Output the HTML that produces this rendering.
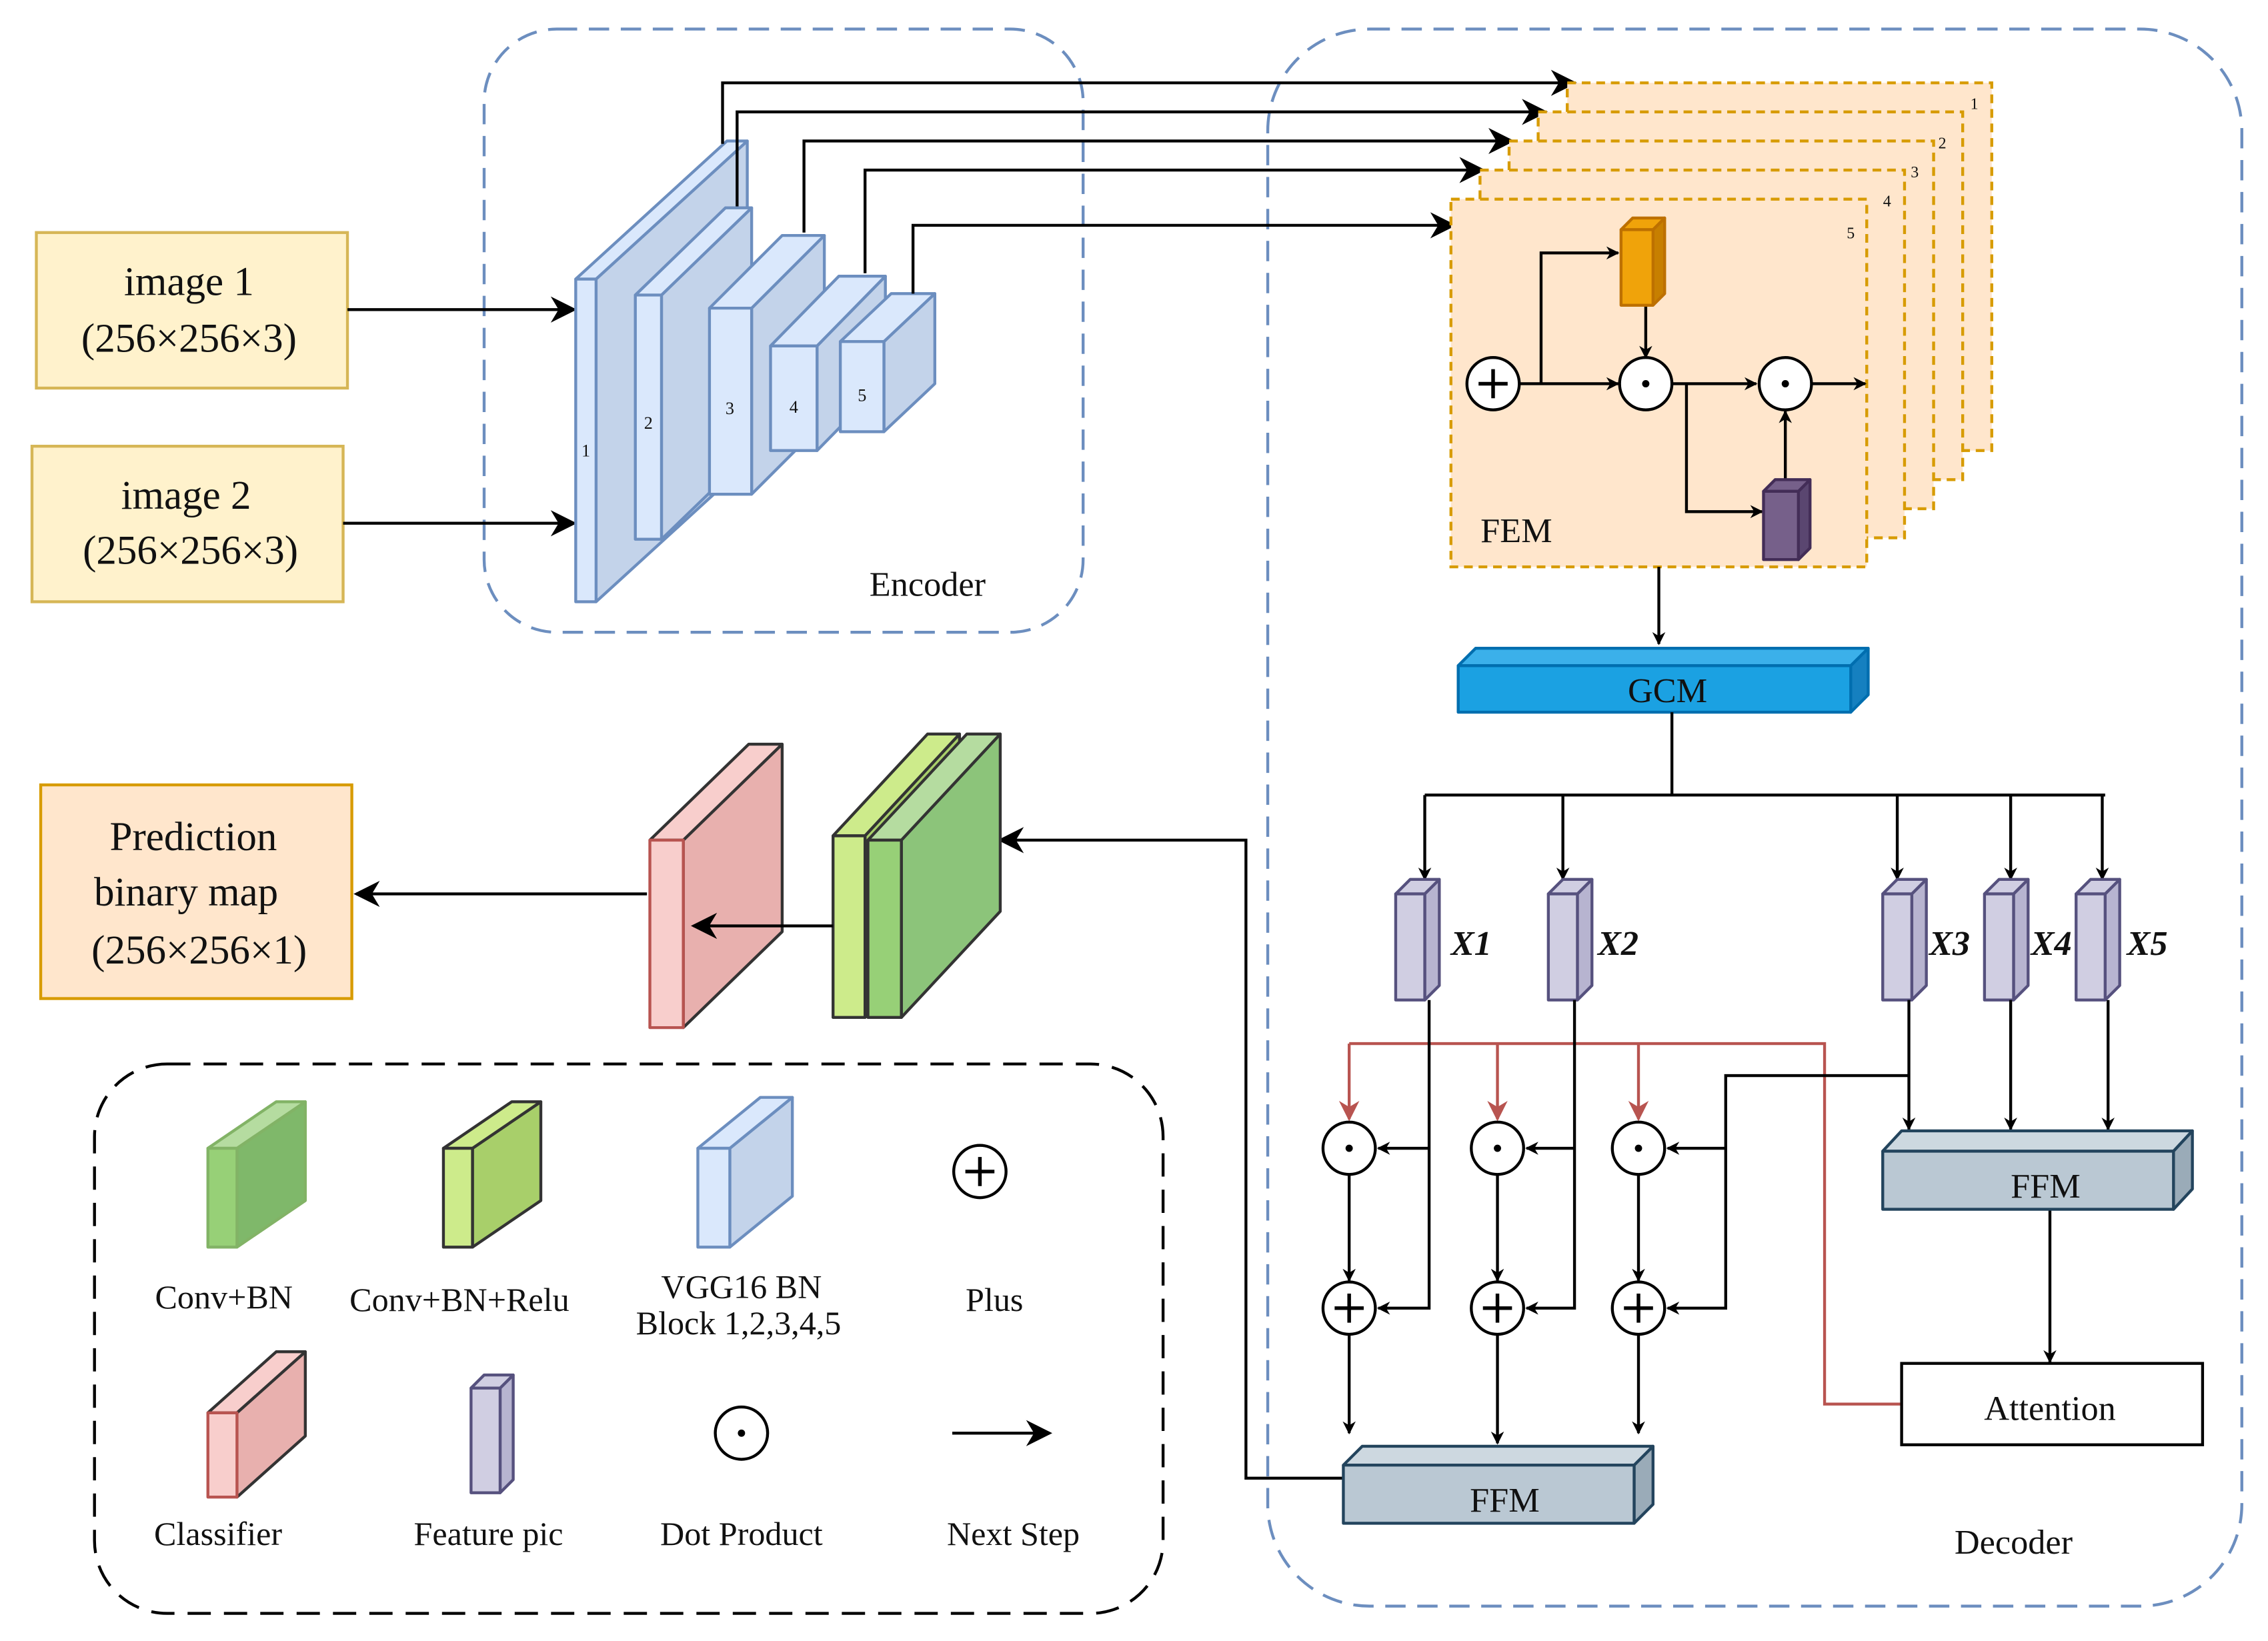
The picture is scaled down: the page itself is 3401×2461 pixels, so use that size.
<!DOCTYPE html>
<html><head><meta charset="utf-8"><style>
html,body{margin:0;padding:0;background:#fff;}
svg{display:block;}
text{font-family:"Liberation Serif",serif;fill:#111;}
</style></head><body>
<svg width="3401" height="2461" viewBox="0 0 1560 1129" preserveAspectRatio="none" xmlns="http://www.w3.org/2000/svg">
<defs>
<marker id="a" viewBox="0 0 10 10" refX="9" refY="5" markerWidth="9" markerHeight="9" orient="auto-start-reverse" markerUnits="userSpaceOnUse"><path d="M0,0 L10,5 L0,10 L3,5 z" fill="#000"/></marker>
<marker id="ab" viewBox="0 0 10 10" refX="9" refY="5" markerWidth="22" markerHeight="18" orient="auto" markerUnits="userSpaceOnUse"><path d="M0,0 L10,5 L0,10 L3,5 z" fill="#000"/></marker>
<marker id="ar" viewBox="0 0 10 10" refX="9" refY="5" markerWidth="14" markerHeight="14" orient="auto" markerUnits="userSpaceOnUse"><path d="M0,0 L10,5 L0,10 L3,5 z" fill="#b85450"/></marker>
</defs>
<rect width="1560" height="1129" fill="#fff"/>
<!-- dashed containers -->
<rect x="333" y="20" width="412" height="415" rx="50" fill="none" stroke="#6c8ebf" stroke-width="2" stroke-dasharray="14,8"/>
<rect x="872" y="20" width="670" height="1085" rx="70" fill="none" stroke="#6c8ebf" stroke-width="2" stroke-dasharray="14,8"/>
<rect x="65" y="732" width="735" height="378" rx="50" fill="none" stroke="#000" stroke-width="2" stroke-dasharray="16,9"/>
<text x="638" y="410" font-size="24" text-anchor="middle">Encoder</text>
<text x="1385" y="1069" font-size="24" text-anchor="middle">Decoder</text>

<!-- inputs -->
<rect x="25" y="160" width="214" height="107" fill="#fff2cc" stroke="#d6b656" stroke-width="2"/>
<text x="130" y="203" font-size="28" text-anchor="middle">image 1</text>
<text x="130" y="242" font-size="28" text-anchor="middle">(256×256×3)</text>
<rect x="22" y="307" width="214" height="107" fill="#fff2cc" stroke="#d6b656" stroke-width="2"/>
<text x="128" y="350" font-size="28" text-anchor="middle">image 2</text>
<text x="131" y="388" font-size="28" text-anchor="middle">(256×256×3)</text>
<line x1="239" y1="213" x2="395" y2="213" stroke="#000" stroke-width="2" marker-end="url(#ab)"/>
<line x1="236" y1="360" x2="395" y2="360" stroke="#000" stroke-width="2" marker-end="url(#ab)"/>

<!-- encoder blocks -->
<g fill="#dae8fc" stroke="#6c8ebf" stroke-width="2" stroke-linejoin="round">
<polygon points="410,192 514,97 514,319 410,414" fill="#c3d3ea"/><polygon points="396,192 500,97 514,97 410,192"/><rect x="396" y="192" width="14" height="222"/>
<polygon points="455,203 517,143 517,311 455,371" fill="#c3d3ea"/><polygon points="437,203 499,143 517,143 455,203"/><rect x="437" y="203" width="18" height="168"/>
<polygon points="517,212 567,162 567,290 517,340" fill="#c3d3ea"/><polygon points="488,212 538,162 567,162 517,212"/><rect x="488" y="212" width="29" height="128"/>
<polygon points="562,238 609,190 609,262 562,310" fill="#c3d3ea"/><polygon points="530,238 577,190 609,190 562,238"/><rect x="530" y="238" width="32" height="72"/>
<polygon points="608,235 643,202 643,264 608,297" fill="#c3d3ea"/><polygon points="578,235 613,202 643,202 608,235"/><rect x="578" y="235" width="30" height="62"/>
</g>
<g font-size="12" text-anchor="middle"><text x="403" y="314">1</text><text x="446" y="295">2</text><text x="502" y="285">3</text><text x="546" y="284">4</text><text x="593" y="276">5</text></g>

<!-- skip lines -->
<g fill="none" stroke="#000" stroke-width="2">
<polyline points="497,99 497,57 1083,57" marker-end="url(#ab)"/>
<polyline points="507,142 507,77 1063,77" marker-end="url(#ab)"/>
<polyline points="553,160 553,97 1040,97" marker-end="url(#ab)"/>
<polyline points="595,188 595,117 1020,117" marker-end="url(#ab)"/>
<polyline points="628,202 628,155 1000,155" marker-end="url(#ab)"/>
</g>

<!-- FEM stack -->
<g fill="#ffe6cc" stroke="#d79b00" stroke-width="2" stroke-dasharray="6,4">
<rect x="1078" y="57" width="292" height="253"/>
<rect x="1058" y="77" width="292" height="253"/>
<rect x="1038" y="97" width="292" height="253"/>
<rect x="1018" y="117" width="292" height="253"/>
<rect x="998" y="137" width="286" height="253"/>
</g>
<g font-size="11" text-anchor="middle"><text x="1358" y="75">1</text><text x="1336" y="102">2</text><text x="1317" y="122">3</text><text x="1298" y="142">4</text><text x="1273" y="164">5</text></g>
<text x="1043" y="373" font-size="24" text-anchor="middle">FEM</text>
<g fill="none" stroke="#000" stroke-width="2">
<line x1="1045" y1="264" x2="1113" y2="264" marker-end="url(#a)"/>
<polyline points="1060,264 1060,174 1113,174" marker-end="url(#a)"/>
<line x1="1132" y1="210" x2="1132" y2="246" marker-end="url(#a)"/>
<line x1="1150" y1="264" x2="1208" y2="264" marker-end="url(#a)"/>
<polyline points="1160,264 1160,352 1212,352" marker-end="url(#a)"/>
<line x1="1228" y1="330" x2="1228" y2="283" marker-end="url(#a)"/>
<line x1="1246" y1="264" x2="1283" y2="264" marker-end="url(#a)"/>
</g>
<g stroke-width="2" stroke-linejoin="round">
<polygon points="1137,158 1145,150 1145,202 1137,210" fill="#c77f00" stroke="#bd7000"/><polygon points="1115,158 1123,150 1145,150 1137,158" fill="#f0a30a" stroke="#bd7000"/><rect x="1115" y="158" width="22" height="52" fill="#f0a30a" stroke="#bd7000"/>
<polygon points="1237,338 1245,330 1245,377 1237,385" fill="#5a4670" stroke="#432d57"/><polygon points="1213,338 1221,330 1245,330 1237,338" fill="#76608a" stroke="#432d57"/><rect x="1213" y="338" width="24" height="47" fill="#76608a" stroke="#432d57"/>
</g>
<g fill="#fff" stroke="#000" stroke-width="2">
<circle cx="1027" cy="264" r="18"/><circle cx="1132" cy="264" r="18"/><circle cx="1228" cy="264" r="18"/>
</g>
<g stroke="#000" stroke-width="2.5"><line x1="1017" y1="264" x2="1037" y2="264"/><line x1="1027" y1="254" x2="1027" y2="274"/></g>
<circle cx="1132" cy="264" r="2.5" fill="#000"/><circle cx="1228" cy="264" r="2.5" fill="#000"/>

<!-- GCM -->
<line x1="1141" y1="390" x2="1141" y2="443" stroke="#000" stroke-width="2" marker-end="url(#a)"/>
<g stroke="#006eaf" stroke-width="2" stroke-linejoin="round">
<polygon points="1273,458 1285,446 1285,478 1273,490" fill="#1580c0"/><polygon points="1003,458 1015,446 1285,446 1273,458" fill="#3bb0ea"/><rect x="1003" y="458" width="270" height="32" fill="#1ba1e2"/>
</g>
<text x="1147" y="483" font-size="24" text-anchor="middle">GCM</text>

<g fill="none" stroke="#000" stroke-width="2">
<line x1="1150" y1="490" x2="1150" y2="547"/>
<line x1="980" y1="547" x2="1448" y2="547"/>
<line x1="980" y1="547" x2="980" y2="605" marker-end="url(#a)"/>
<line x1="1075" y1="547" x2="1075" y2="605" marker-end="url(#a)"/>
<line x1="1305" y1="547" x2="1305" y2="605" marker-end="url(#a)"/>
<line x1="1383" y1="547" x2="1383" y2="605" marker-end="url(#a)"/>
<line x1="1446" y1="547" x2="1446" y2="605" marker-end="url(#a)"/>
</g>
<!-- feature pics -->
<g fill="#d0cee2" stroke="#56517e" stroke-width="2" stroke-linejoin="round">
<polygon points="980,615 990,605 990,678 980,688" fill="#b7b4d0"/><polygon points="960,615 970,605 990,605 980,615"/><rect x="960" y="615" width="20" height="73"/>
<polygon points="1085,615 1095,605 1095,678 1085,688" fill="#b7b4d0"/><polygon points="1065,615 1075,605 1095,605 1085,615"/><rect x="1065" y="615" width="20" height="73"/>
<polygon points="1315,615 1325,605 1325,678 1315,688" fill="#b7b4d0"/><polygon points="1295,615 1305,605 1325,605 1315,615"/><rect x="1295" y="615" width="20" height="73"/>
<polygon points="1385,615 1395,605 1395,678 1385,688" fill="#b7b4d0"/><polygon points="1365,615 1375,605 1395,605 1385,615"/><rect x="1365" y="615" width="20" height="73"/>
<polygon points="1448,615 1458,605 1458,678 1448,688" fill="#b7b4d0"/><polygon points="1428,615 1438,605 1458,605 1448,615"/><rect x="1428" y="615" width="20" height="73"/>
</g>
<g font-size="24" font-style="italic" font-weight="bold" text-anchor="middle">
<text x="1012" y="657">X1</text><text x="1113" y="657">X2</text><text x="1341" y="657">X3</text><text x="1411" y="657">X4</text><text x="1477" y="657">X5</text>
</g>

<!-- red attention -->
<g fill="none" stroke="#b85450" stroke-width="2">
<polyline points="1307,966 1255,966 1255,718 928,718"/>
<line x1="928" y1="718" x2="928" y2="770" marker-end="url(#ar)"/>
<line x1="1030" y1="718" x2="1030" y2="770" marker-end="url(#ar)"/>
<line x1="1127" y1="718" x2="1127" y2="770" marker-end="url(#ar)"/>
</g>
<g fill="none" stroke="#000" stroke-width="2">
<polyline points="983,688 983,900 948,900" marker-end="url(#a)"/>
<line x1="983" y1="790" x2="948" y2="790" marker-end="url(#a)"/>
<polyline points="1083,688 1083,900 1050,900" marker-end="url(#a)"/>
<line x1="1083" y1="790" x2="1050" y2="790" marker-end="url(#a)"/>
<line x1="1313" y1="688" x2="1313" y2="777" marker-end="url(#a)"/>
<polyline points="1313,740 1187,740 1187,900 1147,900" marker-end="url(#a)"/>
<line x1="1187" y1="790" x2="1147" y2="790" marker-end="url(#a)"/>
<line x1="1383" y1="688" x2="1383" y2="777" marker-end="url(#a)"/>
<line x1="1450" y1="688" x2="1450" y2="777" marker-end="url(#a)"/>
<line x1="928" y1="808" x2="928" y2="881" marker-end="url(#a)"/>
<line x1="1030" y1="808" x2="1030" y2="881" marker-end="url(#a)"/>
<line x1="1127" y1="808" x2="1127" y2="881" marker-end="url(#a)"/>
<line x1="928" y1="918" x2="928" y2="986" marker-end="url(#a)"/>
<line x1="1030" y1="918" x2="1030" y2="993" marker-end="url(#a)"/>
<line x1="1127" y1="918" x2="1127" y2="986" marker-end="url(#a)"/>
<line x1="1410" y1="832" x2="1410" y2="937" marker-end="url(#a)"/>
<polyline points="924,1017 857,1017 857,578 688,578" marker-end="url(#ab)"/>
</g>
<g fill="#fff" stroke="#000" stroke-width="2">
<circle cx="928" cy="790" r="18"/><circle cx="1030" cy="790" r="18"/><circle cx="1127" cy="790" r="18"/>
<circle cx="928" cy="900" r="18"/><circle cx="1030" cy="900" r="18"/><circle cx="1127" cy="900" r="18"/>
</g>
<g fill="#000"><circle cx="928" cy="790" r="2.5"/><circle cx="1030" cy="790" r="2.5"/><circle cx="1127" cy="790" r="2.5"/></g>
<g stroke="#000" stroke-width="2.5">
<line x1="918" y1="900" x2="938" y2="900"/><line x1="928" y1="890" x2="928" y2="910"/>
<line x1="1020" y1="900" x2="1040" y2="900"/><line x1="1030" y1="890" x2="1030" y2="910"/>
<line x1="1117" y1="900" x2="1137" y2="900"/><line x1="1127" y1="890" x2="1127" y2="910"/>
</g>

<!-- FFMs -->
<g stroke="#23445d" stroke-width="2" stroke-linejoin="round">
<polygon points="1495,792 1508,778 1508,818 1495,832" fill="#9aabb8"/><polygon points="1295,792 1308,778 1508,778 1495,792" fill="#cdd8e0"/><rect x="1295" y="792" width="200" height="40" fill="#bac8d3"/>
<polygon points="1124,1008 1137,995 1137,1035 1124,1048" fill="#9aabb8"/><polygon points="924,1008 937,995 1137,995 1124,1008" fill="#cdd8e0"/><rect x="924" y="1008" width="200" height="40" fill="#bac8d3"/>
</g>
<text x="1407" y="824" font-size="24" text-anchor="middle">FFM</text>
<text x="1035" y="1040" font-size="24" text-anchor="middle">FFM</text>
<rect x="1308" y="938" width="207" height="56" fill="#fff" stroke="#000" stroke-width="2"/>
<text x="1410" y="977" font-size="24" text-anchor="middle">Attention</text>

<!-- classifier & conv -->
<g stroke-width="2" stroke-linejoin="round">
<polygon points="470,578 538,512 538,641 470,707" fill="#e8b0ae" stroke="#333"/><polygon points="447,578 515,512 538,512 470,578" fill="#f8cecc" stroke="#333"/><rect x="447" y="578" width="23" height="129" fill="#f8cecc" stroke="#b85450"/>
<polygon points="595,575 660,505 660,630 595,700" fill="#a8cf6a" stroke="#333"/><polygon points="573,575 638,505 660,505 595,575" fill="#cdeb8b" stroke="#333"/><rect x="573" y="575" width="22" height="125" fill="#cdeb8b" stroke="#333"/>
<polygon points="620,578 688,505 688,627 620,700" fill="#8cc47a" stroke="#333"/><polygon points="597,578 665,505 688,505 620,578" fill="#b5dca0" stroke="#333"/><rect x="597" y="578" width="23" height="122" fill="#97d077" stroke="#333"/>
</g>
<line x1="573" y1="637" x2="477" y2="637" stroke="#000" stroke-width="2" marker-end="url(#ab)"/>
<line x1="445" y1="615" x2="245" y2="615" stroke="#000" stroke-width="2" marker-end="url(#ab)"/>
<rect x="28" y="540" width="214" height="147" fill="#ffe6cc" stroke="#d79b00" stroke-width="2"/>
<text x="133" y="585" font-size="28" text-anchor="middle">Prediction</text>
<text x="128" y="623" font-size="28" text-anchor="middle">binary map</text>
<text x="137" y="663" font-size="28" text-anchor="middle">(256×256×1)</text>

<!-- legend -->
<g stroke-width="2" stroke-linejoin="round">
<polygon points="163,790 210,758 210,826 163,858" fill="#7fb86a" stroke="#82b366"/><polygon points="143,790 190,758 210,758 163,790" fill="#b5dca0" stroke="#82b366"/><rect x="143" y="790" width="20" height="68" fill="#97d077" stroke="#82b366"/>
<polygon points="325,790 372,758 372,826 325,858" fill="#a8cf6a" stroke="#333"/><polygon points="305,790 352,758 372,758 325,790" fill="#cdeb8b" stroke="#333"/><rect x="305" y="790" width="20" height="68" fill="#cdeb8b" stroke="#333"/>
<polygon points="502,790 545,755 545,823 502,858" fill="#c3d3ea" stroke="#6c8ebf"/><polygon points="480,790 523,755 545,755 502,790" fill="#dae8fc" stroke="#6c8ebf"/><rect x="480" y="790" width="22" height="68" fill="#dae8fc" stroke="#6c8ebf"/>
<polygon points="163,972 210,930 210,988 163,1030" fill="#e8b0ae" stroke="#333"/><polygon points="143,972 190,930 210,930 163,972" fill="#f8cecc" stroke="#333"/><rect x="143" y="972" width="20" height="58" fill="#f8cecc" stroke="#b85450"/>
<polygon points="344,955 353,946 353,1018 344,1027" fill="#b7b4d0" stroke="#56517e"/><polygon points="324,955 333,946 353,946 344,955" fill="#d0cee2" stroke="#56517e"/><rect x="324" y="955" width="20" height="72" fill="#d0cee2" stroke="#56517e"/>
</g>
<circle cx="674" cy="806" r="18" fill="#fff" stroke="#000" stroke-width="2"/>
<g stroke="#000" stroke-width="2.5"><line x1="664" y1="806" x2="684" y2="806"/><line x1="674" y1="796" x2="674" y2="816"/></g>
<circle cx="510" cy="986" r="18" fill="#fff" stroke="#000" stroke-width="2"/><circle cx="510" cy="986" r="2.5" fill="#000"/>
<line x1="655" y1="986" x2="722" y2="986" stroke="#000" stroke-width="2" marker-end="url(#ab)"/>
<g font-size="23" text-anchor="middle">
<text x="154" y="900">Conv+BN</text>
<text x="316" y="902">Conv+BN+Relu</text>
<text x="510" y="893">VGG16 BN</text>
<text x="508" y="918">Block 1,2,3,4,5</text>
<text x="684" y="902">Plus</text>
<text x="150" y="1063">Classifier</text>
<text x="336" y="1063">Feature pic</text>
<text x="510" y="1063">Dot Product</text>
<text x="697" y="1063">Next Step</text>
</g>
</svg>
</body></html>
